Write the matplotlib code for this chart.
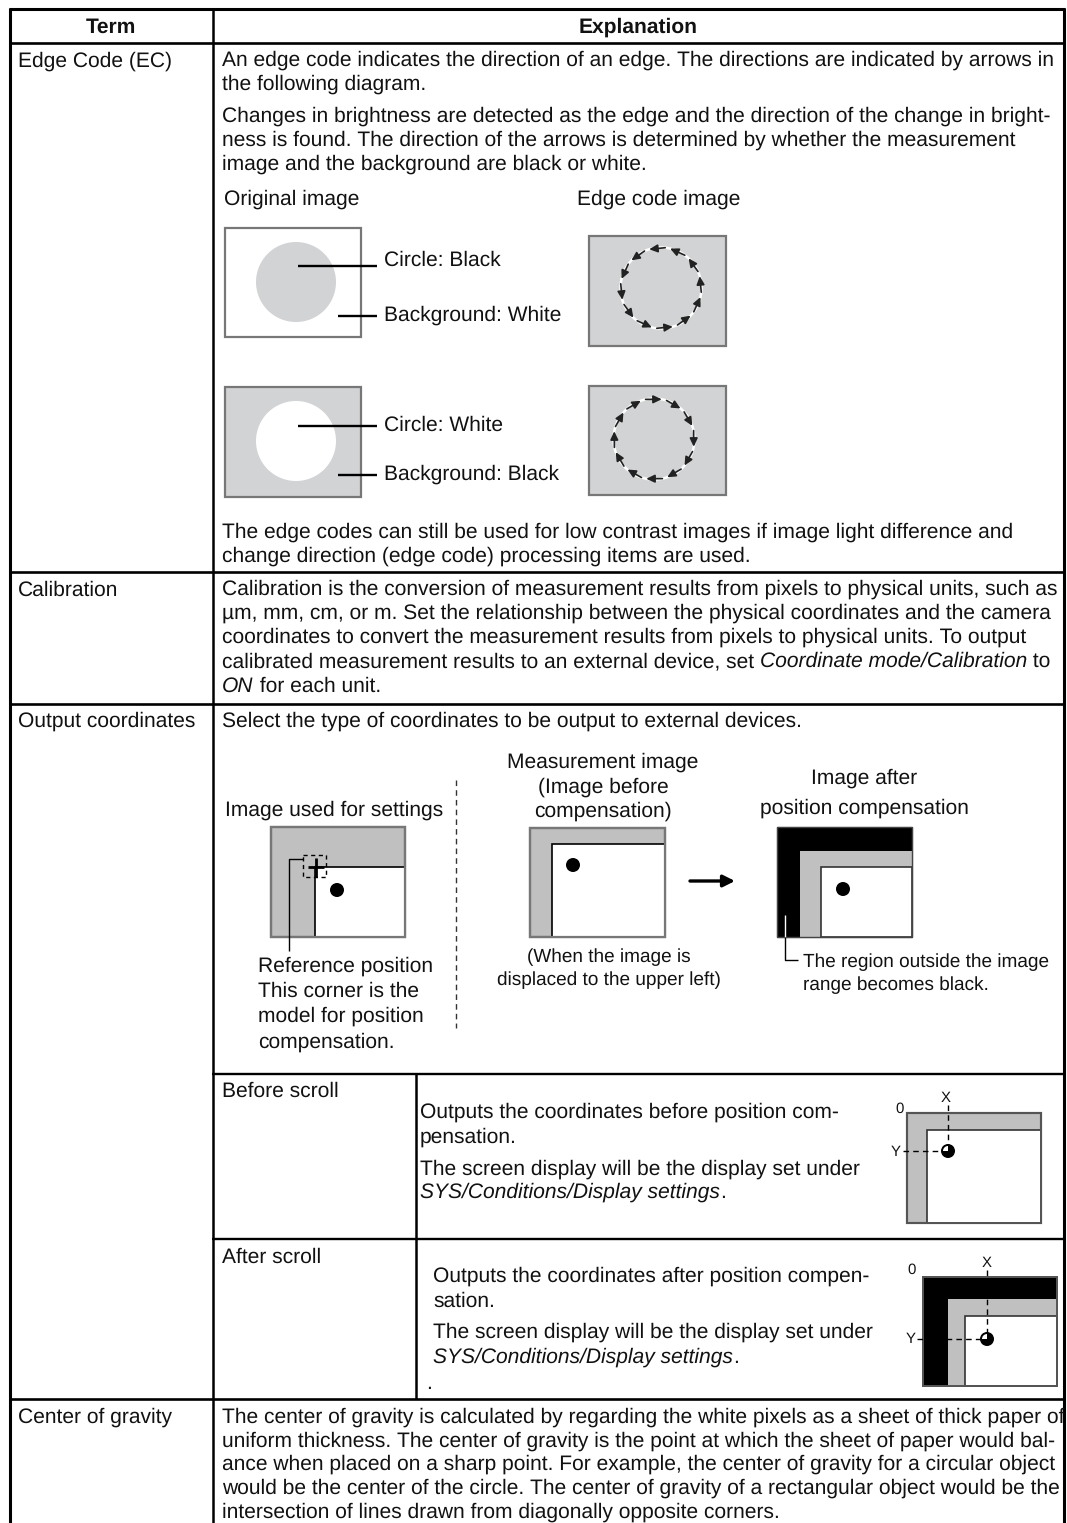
import numpy as np
import matplotlib
matplotlib.use("Agg")
import matplotlib.pyplot as plt
from matplotlib.patches import Rectangle, Circle, FancyArrowPatch, Wedge

plt.rcParams['font.family'] = ['Liberation Sans', 'DejaVu Sans']
plt.rcParams['text.hinting'] = 'no_hinting'
plt.rcParams['text.hinting_factor'] = 1

W, H = 1067, 1523
HEADERS = ["Term", "Explanation"]
TERMS = ["Edge Code (EC)", "Calibration", "Output coordinates", "Center of gravity"]
SUBTERMS = ["Before scroll", "After scroll"]
EDGE_TEXT_1 = ["An edge code indicates the direction of an edge. The directions are indicated by arrows in",
               "the following diagram."]
EDGE_TEXT_2 = ["Changes in brightness are detected as the edge and the direction of the change in bright-",
               "ness is found. The direction of the arrows is determined by whether the measurement",
               "image and the background are black or white."]
EDGE_TEXT_3 = ["The edge codes can still be used for low contrast images if image light difference and",
               "change direction (edge code) processing items are used."]
CALIB_TEXT = ["Calibration is the conversion of measurement results from pixels to physical units, such as",
              "\u00b5m, mm, cm, or m. Set the relationship between the physical coordinates and the camera",
              "coordinates to convert the measurement results from pixels to physical units. To output"]
COG_FIRST = "The center of gravity is calculated by regarding the white pixels as a sheet of thick paper of"
COG_TEXT = ["uniform thickness. The center of gravity is the point at which the sheet of paper would bal-",
            "ance when placed on a sharp point. For example, the center of gravity for a circular object",
            "would be the center of the circle. The center of gravity of a rectangular object would be the",
            "intersection of lines drawn from diagonally opposite corners."]
ANGLES_A = [84, 114, 144, 174, 204, 234, 264, 294, 324, 354, 24, 54]
ANGLES_B = [102, 72, 42, 12, -18, -48, -78, -108, -138, -168, 162, 132]

FS = 15.1       # body size
FS_SMALL = 13.45 # figure notes
FS_TINY = 10.5
GREY = "#c0c0c0"
LIGHT = "#d1d3d4"
EDGE = "#777777"

fig = plt.figure(figsize=(W / 100, H / 100), dpi=100, facecolor="white")
ax = fig.add_axes([0, 0, 1, 1])
ax.set_xlim(0, W)
ax.set_ylim(H, 0)
ax.axis("off")


def T(x, y, s, fs=FS, ha="left", **kw):
    return ax.text(x, y, s, fontsize=fs, ha=ha, va="baseline", color="#111111", **kw)


def L(xs, ys, lw=1.2, color="black", **kw):
    ax.plot(xs, ys, color=color, lw=lw, solid_capstyle="butt", **kw)


def R(x0, y0, x1, y1, fc, ec=EDGE, lw=1.6, z=2):
    ax.add_patch(Rectangle((x0, y0), x1 - x0, y1 - y0, fc=fc, ec=ec, lw=lw, zorder=z))


def lines(x, ys, rows, **kw):
    for y, s in zip(ys, rows):
        T(x, y, s, **kw)


def segs(x, y, parts):
    r = fig.canvas.get_renderer()
    for s, style in parts:
        T(x, y, s, style=style)
        probe = ax.text(0, 0, "|" + s + "|", fontsize=FS, style=style, alpha=0)
        bar = ax.text(0, 0, "||", fontsize=FS, style=style, alpha=0)
        x += probe.get_window_extent(r).width - bar.get_window_extent(r).width
        probe.remove()
        bar.remove()


# ---------- table frame ----------
L([8.5, 1065], [9, 9], lw=2.2)
for y in [43, 572, 704, 1399]:
    L([9, 1065], [y, y], lw=1.9)
for y in [1074, 1239]:
    L([212, 1065], [y, y], lw=1.7)
L([10, 10], [8, H], lw=2.2)
L([1064, 1064], [8, H], lw=2.2)
L([212.5, 212.5], [8, H], lw=1.8)
L([416, 416], [1074, 1399], lw=1.8)

T(111, 33, HEADERS[0], ha="center", weight="bold")
T(638, 33, HEADERS[1], ha="center", weight="bold")
lines(18, [67, 596, 727, 1423], TERMS)
lines(222, [1097, 1263], SUBTERMS)

# ---------- edge code ----------
lines(222, [66, 90], EDGE_TEXT_1)
lines(222, [122, 146, 170], EDGE_TEXT_2)
lines(222, [538, 562], EDGE_TEXT_3)
T(224, 205, "Original image")
T(577, 205, "Edge code image")

R(225, 228, 361, 337, "white")
ax.add_patch(Circle((296, 282), 40, fc=LIGHT, ec="none", zorder=3))
R(225, 387, 361, 497, LIGHT)
ax.add_patch(Circle((296, 441), 40, fc="white", ec="none", zorder=3))
for y, x0 in [(266, 298), (316, 338), (426, 298), (475, 338)]:
    L([x0, 377], [y, y], lw=1.7, zorder=4)
T(384, 266, "Circle: Black")
T(384, 321, "Background: White")
T(384, 431, "Circle: White")
T(384, 480, "Background: Black")

for (y0, y1, cy, cx, angs, sgn) in [(236, 346, 288, 661, ANGLES_A, 1), (386, 495, 439, 654, ANGLES_B, -1)]:
    R(589, y0, 726, y1, LIGHT)
    ax.add_patch(Circle((cx, cy), 40.5, fc="none", ec="white", lw=1.8, zorder=3))
    for a in angs:
        a0, a1 = np.radians(a), np.radians(a + sgn * 23)
        ax.add_patch(FancyArrowPatch((cx + 40.5 * np.cos(a0), cy - 40.5 * np.sin(a0)),
                                     (cx + 40.5 * np.cos(a1), cy - 40.5 * np.sin(a1)),
                                     arrowstyle="-|>,head_length=3.8,head_width=1.8", lw=1.2,
                                     color="#222222", shrinkA=0, shrinkB=0, zorder=4, mutation_scale=1.3))

# ---------- calibration ----------
lines(222, [595, 619, 643], CALIB_TEXT)
segs(222, 667, [("calibrated measurement results to an external device, set ", "normal"),
                ("Coordinate mode/Calibration", "italic"), (" to", "normal")])
segs(222, 692, [("ON", "italic"), (" for each unit.", "normal")])

# ---------- output coordinates ----------
T(222, 727, "Select the type of coordinates to be output to external devices.")
T(225, 816, "Image used for settings")
lines(258, [972, 997, 1022, 1048],
      ["Reference position", "This corner is the", "model for position", "compensation."])
L([456, 456], [780, 1028], lw=1.0, color="#333333", linestyle=(0, (4, 3)))
lines(603, [768, 793, 817], ["Measurement image", "(Image before", "compensation)"], ha="center")
lines(864, [784, 814], ["Image after", "position compensation"], ha="center")
lines(609, [962, 985], ["(When the image is", "displaced to the upper left)"], ha="center", fs=FS_SMALL)
lines(803, [967, 990], ["The region outside the image", "range becomes black."], fs=FS_SMALL)

R(271, 827, 405, 937, GREY)
R(315, 867, 405, 937, "white", ec="black", lw=1.2)
R(271, 827, 405, 937, "none")
ax.add_patch(Circle((337, 890), 7, fc="black", zorder=4))
ax.add_patch(Rectangle((303, 855), 23, 22, fc="none", ec="black", lw=1.0, ls=(0, (3, 2.5)), zorder=4))
L([308, 324], [867, 867], lw=2.0, zorder=5)
L([316, 316], [858, 877], lw=2.0, zorder=5)
L([303, 289, 289], [859, 859, 951], lw=1.0, zorder=5)

R(530, 828, 665, 937, GREY)
R(552, 844, 665, 937, "white", ec="black", lw=1.2)
R(530, 828, 665, 937, "none")
ax.add_patch(Circle((573, 865), 7, fc="black", zorder=4))
ax.annotate("", xy=(735, 881), xytext=(690, 881),
            arrowprops=dict(arrowstyle="-|>,head_length=0.5,head_width=0.25", color="black", lw=2.4, mutation_scale=14,
                            shrinkA=0, shrinkB=0))

R(777, 827, 912, 937, "black", ec="black", lw=0.8)
R(800, 851, 912, 937, GREY, ec="none", lw=0)
R(821, 867, 912, 937, "white", ec="#333333", lw=1.2)
R(777, 827, 912, 937, "none", ec="#444444", lw=1.0, z=3)
ax.add_patch(Circle((843, 889), 7, fc="black", zorder=4))
L([785, 785], [915, 937], lw=1.0, color="white", zorder=5)
L([785, 785, 798], [937, 960, 960], lw=1.0, zorder=5)


def scroll_diagram(box, inner, grey, dot, xlab, zero, ylab, dash_x0):
    if grey is None:
        R(*box, GREY)
    else:
        R(*box, "black", ec="#555555", lw=1.2)
        R(grey[0], grey[1], box[2], box[3], GREY, ec="none", lw=0)
    R(inner[0], inner[1], box[2], box[3], "white", ec="#333333", lw=1.2)
    R(*box, "none", ec="#555555", lw=1.4, z=3)
    ax.add_patch(Circle(dot, 7, fc="black", zorder=4))
    ax.add_patch(Wedge(dot, 5, 180, 270, fc="white", zorder=5, ec="none"))
    dash = (0, (4, 3))
    L([dot[0], dot[0]], [xlab[1] + 3, dot[1] - 6], lw=1.0, linestyle=dash, zorder=4)
    L([dash_x0, dot[0] - 6], [dot[1], dot[1]], lw=1.0, linestyle=dash, zorder=4)
    T(xlab[0], xlab[1], "X", fs=FS_TINY, ha="center")
    T(zero[0], zero[1], "0", fs=FS_TINY, ha="center")
    T(ylab[0], ylab[1], "Y", fs=FS_TINY, ha="center")


# ---------- before scroll ----------
T(420, 1118, "Outputs the coordinates before position com-")
T(420, 1143, "pensation.")
T(420, 1175, "The screen display will be the display set under")
segs(420, 1198, [("SYS/Conditions/Display settings", "italic"), (".", "normal")])
scroll_diagram((907, 1113, 1041, 1223), (927, 1130), None, (948, 1151), (946, 1102), (900, 1113), (896, 1156), 903)

# ---------- after scroll ----------
T(433, 1282, "Outputs the coordinates after position compen-")
T(433, 1307, "sation.")
T(433, 1338, "The screen display will be the display set under")
segs(433, 1363, [("SYS/Conditions/Display settings", "italic"), (".", "normal")])
T(426, 1389, ".")
scroll_diagram((923, 1277, 1057, 1386), (965, 1316), (948, 1299), (987, 1339), (987, 1267), (912, 1274), (911, 1343), 917)

# ---------- centre of gravity ----------
T(222, 1423, COG_FIRST, fs=14.85)
lines(222, [1447, 1470, 1494, 1518], COG_TEXT)

fig.savefig("out.png", dpi=100, facecolor="white")
